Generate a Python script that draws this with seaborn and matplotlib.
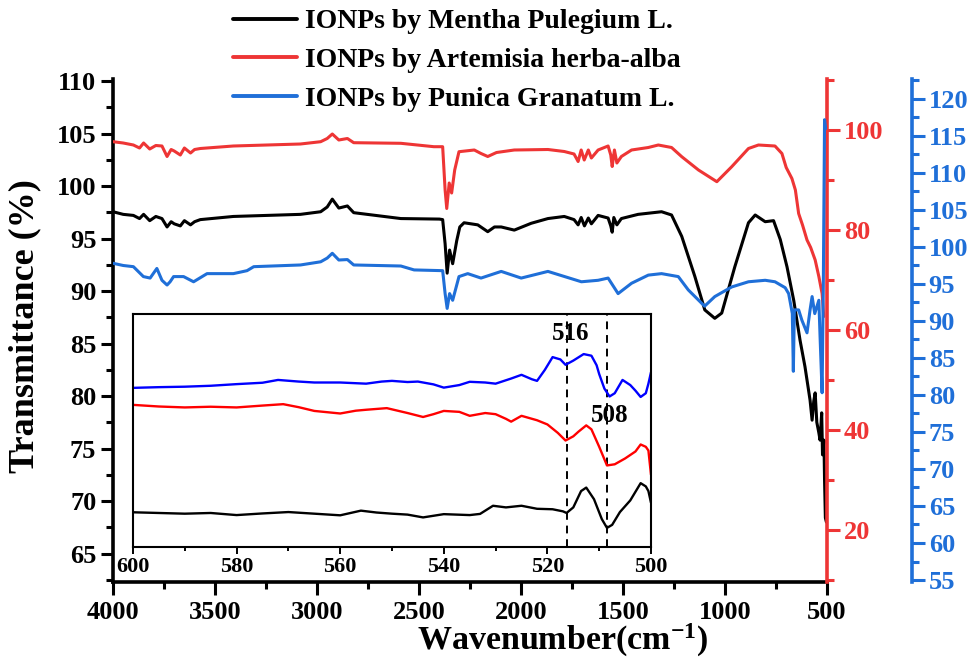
import numpy as np
import pandas as pd
import matplotlib
matplotlib.use("Agg")
import matplotlib.pyplot as plt
from matplotlib.ticker import MultipleLocator
import seaborn as sns

sns.set_theme(style="white")
plt.rcParams["font.family"] = ["Liberation Serif", "DejaVu Serif"]
plt.rcParams["font.weight"] = "bold"
plt.rcParams["axes.labelweight"] = "bold"
plt.rcParams["mathtext.fontset"] = "custom"
plt.rcParams["mathtext.rm"] = "Liberation Serif:bold"
plt.rcParams["mathtext.bf"] = "Liberation Serif:bold"
plt.rcParams["mathtext.default"] = "rm"
for k in ("text.color", "axes.labelcolor", "xtick.color", "ytick.color"):
    plt.rcParams[k] = "black"

# ---------------- data ----------------
labels = ["IONPs by Mentha Pulegium L.", "IONPs by Artemisia herba-alba", "IONPs by Punica Granatum L."]

mentha_wn = [4000, 3950, 3900, 3870, 3850, 3820, 3790, 3760, 3735, 3715, 3700, 3670, 3650, 3620, 3600, 3572,
             3410, 3081, 2982, 2950, 2925, 2893, 2851, 2820, 2589, 2400, 2384, 2372, 2362, 2350, 2335, 2315,
             2300, 2279, 2212, 2163, 2130, 2097, 2033, 1950, 1868, 1788, 1740, 1720, 1705, 1689, 1670, 1655,
             1622, 1573, 1560, 1553, 1545, 1530, 1508, 1426, 1311, 1262, 1212, 1148, 1099, 1050, 1016, 952,
             885, 852, 803, 762, 729, 696, 663, 632, 608, 590, 583, 573, 565, 558, 550, 540, 534, 526, 522,
             515, 512, 508, 503]
mentha_t = [97.55, 97.3, 97.2, 96.9, 97.3, 96.7, 97.1, 96.9, 96.1, 96.6, 96.4, 96.2, 96.7, 96.3, 96.6, 96.8,
            97.1, 97.3, 97.55, 98.0, 98.75, 97.9, 98.1, 97.46, 96.9, 96.85, 96.8, 94.5, 91.7, 93.9, 92.6, 94.8,
            96.1, 96.5, 96.3, 95.65, 96.1, 96.1, 95.8, 96.45, 96.9, 97.1, 96.8, 96.3, 97.0, 96.2, 96.95, 96.4,
            97.2, 96.95, 96.2, 95.6, 97.0, 96.3, 96.9, 97.3, 97.55, 97.24, 95.2, 91.4, 88.2, 87.4, 87.9, 92.3,
            96.5, 97.24, 96.6, 96.7, 94.9, 92.3, 89.1, 85.3, 82.8, 80.5, 79.6, 77.7, 79.5, 80.3, 77.5, 76.5,
            75.8, 78.4, 74.4, 75.8, 72.0, 68.4, 68.0]

artemisia_wn = [4000, 3950, 3900, 3870, 3850, 3820, 3790, 3760, 3735, 3715, 3700, 3670, 3650, 3620, 3600, 3572,
                3410, 3081, 2982, 2950, 2925, 2893, 2851, 2820, 2589, 2427, 2384, 2372, 2364, 2352, 2340, 2325,
                2304, 2229, 2196, 2163, 2120, 2033, 1868, 1788, 1740, 1720, 1705, 1690, 1670, 1655, 1622, 1573,
                1560, 1553, 1542, 1530, 1508, 1458, 1376, 1327, 1262, 1212, 1130, 1040, 967, 885, 836, 755,
                721, 700, 672, 655, 639, 620, 598, 580, 558, 540, 524, 516]
artemisia_t = [97.66, 97.4, 97.0, 96.4, 97.4, 96.2, 96.9, 96.8, 94.7, 96.1, 95.8, 95.0, 96.4, 95.4, 96.1, 96.3,
               96.8, 97.2, 97.66, 98.3, 99.2, 98.0, 98.3, 97.46, 97.34, 96.66, 96.66, 88.0, 84.3, 89.4, 87.4, 92.0,
               95.66, 96.0, 95.3, 94.7, 95.5, 96.0, 96.1, 95.7, 95.2, 93.7, 96.0, 94.0, 96.0, 94.4, 96.0, 96.8,
               95.0, 92.7, 96.0, 93.4, 94.7, 96.0, 96.5, 97.0, 96.5, 94.66, 92.0, 89.66, 92.66, 96.3, 97.0, 96.8,
               95.3, 92.5, 90.3, 88.0, 83.3, 81.0, 78.0, 76.5, 74.0, 70.7, 67.3, 62.7]

punica_wn = [4000, 3950, 3900, 3851, 3818, 3785, 3760, 3735, 3720, 3703, 3654, 3605, 3539, 3410, 3343, 3310,
             3081, 2982, 2950, 2925, 2893, 2851, 2820, 2589, 2524, 2384, 2372, 2362, 2350, 2335, 2304, 2261,
             2196, 2097, 1999, 1868, 1704, 1622, 1573, 1524, 1458, 1376, 1311, 1229, 1180, 1100, 1050, 967,
             885, 803, 755, 705, 688, 670, 665, 660, 639, 623, 598, 583, 573, 560, 540, 534, 524, 518, 512, 507]
punica_t = [97.8, 97.5, 97.34, 96.0, 95.8, 97.1, 95.5, 94.86, 95.3, 96.0, 96.0, 95.3, 96.4, 96.4, 96.8, 97.34,
            97.57, 98.0, 98.5, 99.15, 98.24, 98.3, 97.57, 97.43, 96.9, 96.8, 93.7, 91.7, 93.7, 92.8, 96.0, 96.4,
            95.8, 96.7, 95.8, 96.7, 95.3, 95.5, 95.8, 93.7, 95.1, 96.2, 96.4, 96.0, 94.2, 92.0, 93.3, 94.6,
            95.3, 95.5, 95.3, 94.5, 93.7, 91.0, 83.2, 91.5, 91.5, 90.1, 88.4, 91.5, 93.3, 91.0, 92.8, 87.9,
            80.3, 95.0, 117.2, 116.0]

# inset (600-500 cm-1), offset arbitrary units
inset_blue_wn = [600, 595, 590, 585, 580, 575, 572, 568, 565, 560, 555, 552, 550, 547, 545, 542, 540, 537, 535,
                 532, 530, 527, 525, 523, 522, 520.5, 519, 517.5, 516.5, 515, 513, 511.5, 510.5, 510, 509, 508,
                 507, 505.5, 504, 503, 502, 501, 500.5, 500]
inset_blue_t = [68.3, 68.6, 68.8, 69.2, 69.9, 70.5, 71.7, 71.0, 70.6, 70.6, 70.1, 71.0, 71.3, 70.8, 71.0, 69.8,
                68.4, 69.5, 70.9, 70.6, 70.1, 72.3, 73.9, 72.0, 71.3, 76.0, 81.5, 80.5, 78.2, 80.0, 82.8, 82.1,
                78.0, 74.2, 68.0, 64.6, 66.0, 71.7, 69.5, 67.1, 64.4, 66.0, 70.1, 75.0]
inset_red_wn = [600, 595, 590, 585, 580, 575, 571, 568, 565, 560, 557, 555, 551, 547, 544, 542, 540, 537, 535,
                532, 530, 528, 527, 525, 522, 520, 518, 516.5, 515, 514, 512.5, 511.5, 510, 508.5, 507, 505,
                503, 502, 501, 500.5, 500]
inset_red_t = [61.0, 60.3, 59.9, 60.2, 59.9, 60.7, 61.3, 60.0, 58.4, 57.3, 58.5, 58.9, 59.6, 57.5, 55.8, 57.0,
               58.4, 58.0, 56.3, 57.5, 57.0, 55.0, 53.8, 56.3, 54.4, 52.6, 49.0, 45.7, 47.5, 49.5, 52.2, 50.5,
               43.0, 35.0, 35.5, 38.0, 41.0, 44.0, 43.0, 41.4, 31.0]
inset_black_wn = [600, 595, 590, 585, 580, 575, 570, 565, 560, 556, 553, 550, 547, 544, 540, 535, 533, 530.5,
                  528, 525, 522, 519, 517, 516.3, 515, 513.5, 512.5, 511, 509.5, 508.5, 507.5, 506, 504, 502,
                  501, 500.5, 500]
inset_black_t = [14.9, 14.6, 14.3, 14.6, 13.7, 14.4, 15.0, 14.3, 13.6, 15.6, 14.8, 14.3, 13.9, 12.7, 14.1, 13.7,
                 14.2, 17.7, 17.0, 17.7, 16.4, 16.2, 15.3, 14.6, 17.0, 24.0, 25.5, 20.5, 12.0, 8.2, 9.5, 15.0,
                 20.0, 27.4, 26.0, 24.0, 19.0]
marker_wn = [516.3, 508.5]
marker_text = ["516", "508"]

# ---------------- colours ----------------
C_BLACK = "#000000"
C_RED = "#EE3535"
C_BLUE = "#1F6FD8"

W, H = 973, 661
fig = plt.figure(figsize=(W / 100, H / 100), dpi=100)

def fx(px):
    return px / W

def fy(py):
    return 1 - py / H

L, R, T, B = 113, 827, 79, 582
ax = fig.add_axes([fx(L), fy(B), fx(R) - fx(L), fy(T) - fy(B)])
ax_r = ax.twinx()
ax_b = ax.twinx()

df_m = pd.DataFrame({"wn": mentha_wn, "t": mentha_t})
df_a = pd.DataFrame({"wn": artemisia_wn, "t": artemisia_t})
df_p = pd.DataFrame({"wn": punica_wn, "t": punica_t})

sns.lineplot(data=df_m, x="wn", y="t", ax=ax, color=C_BLACK, lw=2.2, sort=False, estimator=None)
sns.lineplot(data=df_a, x="wn", y="t", ax=ax_r, color=C_RED, lw=2.2, sort=False, estimator=None)
sns.lineplot(data=df_p, x="wn", y="t", ax=ax_b, color=C_BLUE, lw=2.2, sort=False, estimator=None)

ax.set_xlim(4000, 500)
ax.set_ylim(62.29, 110.19)
ax_r.set_ylim(9.6, 110.2)
ax_b.set_ylim(54.73, 122.7)

TS = 19
tick_kw = dict(direction="out", labelsize=TS, width=2.2)
ax.xaxis.set_major_locator(MultipleLocator(500))
ax.xaxis.set_minor_locator(MultipleLocator(250))
ax.yaxis.set_major_locator(MultipleLocator(5))
ax.yaxis.set_minor_locator(MultipleLocator(2.5))
ax.tick_params(axis="both", which="major", length=9, pad=3, **tick_kw)
ax.tick_params(axis="both", which="minor", length=5, width=2.2, direction="out")
ax.tick_params(axis="x", pad=5)
ax.tick_params(left=True, bottom=True, which="both")

ax_r.yaxis.set_major_locator(MultipleLocator(20))
ax_r.yaxis.set_minor_locator(MultipleLocator(10))
ax_r.tick_params(axis="y", which="major", length=9, colors=C_RED, pad=3, **tick_kw)
ax_r.tick_params(axis="y", which="minor", length=5, width=2.2, colors=C_RED, direction="out")
ax_r.tick_params(right=True, which="both")

ax_b.yaxis.set_major_locator(MultipleLocator(5))
ax_b.yaxis.set_minor_locator(MultipleLocator(2.5))
ax_b.tick_params(axis="y", which="major", length=9, colors=C_BLUE, pad=3, **tick_kw)
ax_b.tick_params(axis="y", which="minor", length=5, width=2.2, colors=C_BLUE, direction="out")
ax_b.tick_params(right=True, which="both")
ax_b.spines["right"].set_position(("axes", (912 - L) / (R - L)))

for a in (ax, ax_r, ax_b):
    for s in a.spines.values():
        s.set_visible(False)
    a.set_xlabel("")
    a.set_ylabel("")
ax.spines["left"].set_visible(True)
ax.spines["bottom"].set_visible(True)
ax.spines["left"].set_linewidth(2.6)
ax.spines["bottom"].set_linewidth(2.6)
ax.spines["left"].set_color("black")
ax.spines["bottom"].set_color("black")
ax_r.spines["right"].set_visible(True)
ax_r.spines["right"].set_color(C_RED)
ax_r.spines["right"].set_linewidth(2.6)
ax_b.spines["right"].set_visible(True)
ax_b.spines["right"].set_color(C_BLUE)
ax_b.spines["right"].set_linewidth(2.6)
for a in (ax, ax_r, ax_b):
    a.grid(False)
    a.patch.set_visible(False)
for lab in ax_r.get_yticklabels():
    lab.set_color(C_RED)
for lab in ax_b.get_yticklabels():
    lab.set_color(C_BLUE)

ax.set_ylabel("Transmittance (%)", fontsize=26, fontweight="bold", va="center")
ax.yaxis.set_label_coords((25 - L) / (R - L), (B - 326) / (B - T))
ax.set_xlabel("Wavenumber(cm$^{-1}$)", fontsize=24.5, fontweight="bold", va="baseline")
ax.xaxis.set_label_coords((563 - L) / (R - L), (B - 650) / (B - T))

# legend
handles = [ax.lines[0], ax_r.lines[0], ax_b.lines[0]]
leg = fig.legend(handles, labels, loc="upper left", bbox_to_anchor=(fx(233), fy(9)),
                 frameon=False, prop={"family": "Liberation Serif", "weight": "bold", "size": 20},
                 handlelength=2.3, handletextpad=0.29, labelspacing=0.48, borderpad=0, borderaxespad=0)
for lh in leg.get_lines():
    lh.set_linewidth(2.8)

# inset
IL, IR, IT, IB = 133, 651, 314, 547
axi = fig.add_axes([fx(IL), fy(IB), fx(IR) - fx(IL), fy(IT) - fy(IB)])
axi.set_zorder(5)
axi.set_facecolor("white")
di_b = pd.DataFrame({"wn": inset_blue_wn, "t": inset_blue_t})
di_r = pd.DataFrame({"wn": inset_red_wn, "t": inset_red_t})
di_k = pd.DataFrame({"wn": inset_black_wn, "t": inset_black_t})
sns.lineplot(data=di_b, x="wn", y="t", ax=axi, color="#0000FF", lw=1.7, sort=False, estimator=None)
sns.lineplot(data=di_r, x="wn", y="t", ax=axi, color="#FF0000", lw=1.7, sort=False, estimator=None)
sns.lineplot(data=di_k, x="wn", y="t", ax=axi, color="#000000", lw=1.7, sort=False, estimator=None)
for xv in marker_wn:
    axi.axvline(xv, color="black", lw=1.4, ls=(0, (4, 3)), zorder=1)
axi.text(marker_wn[0] - 0.7, 91.5, marker_text[0], fontsize=18, fontweight="bold", ha="center", va="center")
axi.text(marker_wn[1] - 0.6, 56.3, marker_text[1], fontsize=18, fontweight="bold", ha="center", va="center")
axi.set_xlim(600, 500)
axi.set_ylim(0, 100)
axi.xaxis.set_major_locator(MultipleLocator(20))
axi.xaxis.set_minor_locator(MultipleLocator(10))
axi.set_yticks([])
axi.tick_params(axis="x", which="major", length=5, width=1.4, direction="out", labelsize=16, pad=2)
axi.tick_params(axis="x", which="minor", length=3, width=1.4, direction="out")
axi.tick_params(bottom=True, which="both")
axi.set_xlabel("")
axi.set_ylabel("")
axi.grid(False)
for s in axi.spines.values():
    s.set_visible(True)
    s.set_color("black")
    s.set_linewidth(1.5)

fig.savefig("out.png", dpi=100)
